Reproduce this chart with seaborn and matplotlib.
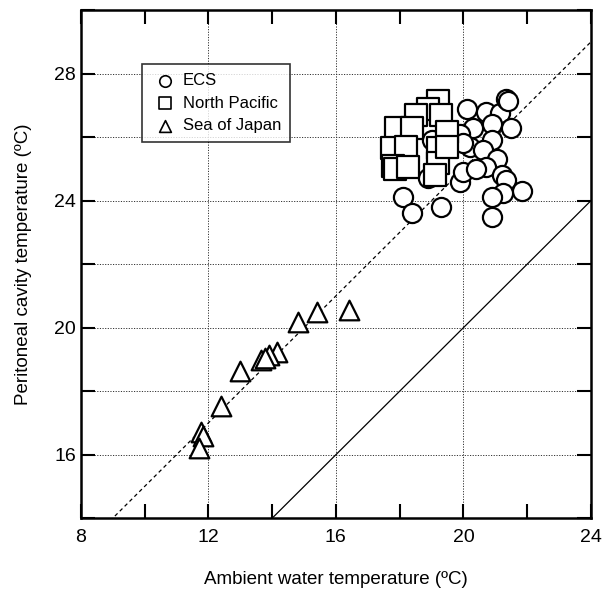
import numpy as np
import pandas as pd
import seaborn as sns
import matplotlib.pyplot as plt
from matplotlib.ticker import MultipleLocator

# 데이터
ecs_x = [18.1, 18.4, 19.3, 18.9, 19.0, 19.9, 20.0, 20.2, 20.3, 20.1, 20.7, 21.15, 21.35,
         21.4, 20.9, 21.5, 20.9, 20.6, 21.05, 20.7, 21.2, 21.35, 21.85, 21.25, 20.9, 20.9,
         19.9, 20.0, 20.4]
ecs_y = [24.1, 23.6, 23.8, 24.7, 25.9, 24.6, 24.9, 25.7, 26.3, 26.9, 26.8, 26.75, 27.2,
         27.15, 26.4, 26.3, 25.9, 25.6, 25.3, 25.05, 24.8, 24.65, 24.3, 24.25, 24.1, 23.5,
         26.1, 25.8, 25.0]

np_x = [19.2, 18.9, 18.5, 19.3, 17.9, 18.4, 19.5, 17.75, 18.2, 19.2, 17.8, 17.85, 18.25,
        19.2, 19.1, 19.5]
np_y = [27.15, 26.9, 26.7, 26.7, 26.3, 26.3, 26.15, 25.65, 25.7, 25.65, 25.1, 25.0, 25.05,
        25.2, 24.8, 25.7]

soj_x = [16.4, 15.4, 14.8, 14.15, 13.9, 13.65, 13.77, 13.0, 12.4, 11.76, 11.82, 11.7]
soj_y = [20.55, 20.5, 20.17, 19.23, 19.15, 18.98, 19.05, 18.65, 17.55, 16.7, 16.6, 16.2]

groups = ['ECS', 'North Pacific', 'Sea of Japan']
markers = ['o', 's', '^']
sizes = [190, 240, 200]

# 기준선: 회귀선(점선)과 1:1 선(실선)
fit_slope, fit_intercept = 1.0, 5.0
line_x = [8, 24]

plt.rcParams['font.family'] = ['Liberation Sans', 'DejaVu Sans']

fig = plt.figure(figsize=(6.03, 5.95), dpi=100)
ax = fig.add_axes([0.134, 0.129, 0.846, 0.854])

lx = np.array(line_x, dtype=float)
ax.plot(lx, fit_slope * lx + fit_intercept, color='black', lw=0.9, ls=(0, (3, 2.5)), zorder=1)
ax.plot(lx, lx, color='black', lw=0.9, zorder=1)

for xs, ys, name, m, sz in zip([ecs_x, np_x, soj_x], [ecs_y, np_y, soj_y], groups, markers, sizes):
    sns.scatterplot(x=xs, y=ys, ax=ax, marker=m, s=sz, color='white',
                    edgecolor='black', linewidth=1.6, label=name, zorder=3)

ax.set_xlim(8, 24)
ax.set_ylim(14, 30)
ax.xaxis.set_major_locator(MultipleLocator(4))
ax.xaxis.set_minor_locator(MultipleLocator(2))
ax.yaxis.set_major_locator(MultipleLocator(4))
ax.yaxis.set_minor_locator(MultipleLocator(2))
ax.grid(which='major', axis='x', color='#333333', ls=(0, (1.2, 1.5)), lw=0.7)
ax.grid(which='both', axis='y', color='#333333', ls=(0, (1.2, 1.5)), lw=0.7)
ax.set_axisbelow(True)
ax.tick_params(which='both', direction='in', top=True, right=True, length=10, width=1.5,
               labelsize=14)
ax.tick_params(axis='x', pad=8)
for s in ax.spines.values():
    s.set_linewidth(1.8)

ax.set_xlabel('Ambient water temperature (ºC)', fontsize=13.5, labelpad=18)
ax.set_ylabel('Peritoneal cavity temperature (ºC)', fontsize=13.5, labelpad=16)

leg = ax.legend(loc='upper left', bbox_to_anchor=(0.12, 0.894), borderaxespad=0,
                fontsize=12, markerscale=0.6, frameon=True, fancybox=False,
                edgecolor='black', handletextpad=0.3, handlelength=1.6,
                borderpad=0.55, labelspacing=0.45)
leg.get_frame().set_linewidth(1.2)
for h in leg.legend_handles:
    h.set_linewidth(1.2)

plt.savefig('out.png', dpi=100)
plt.close()
